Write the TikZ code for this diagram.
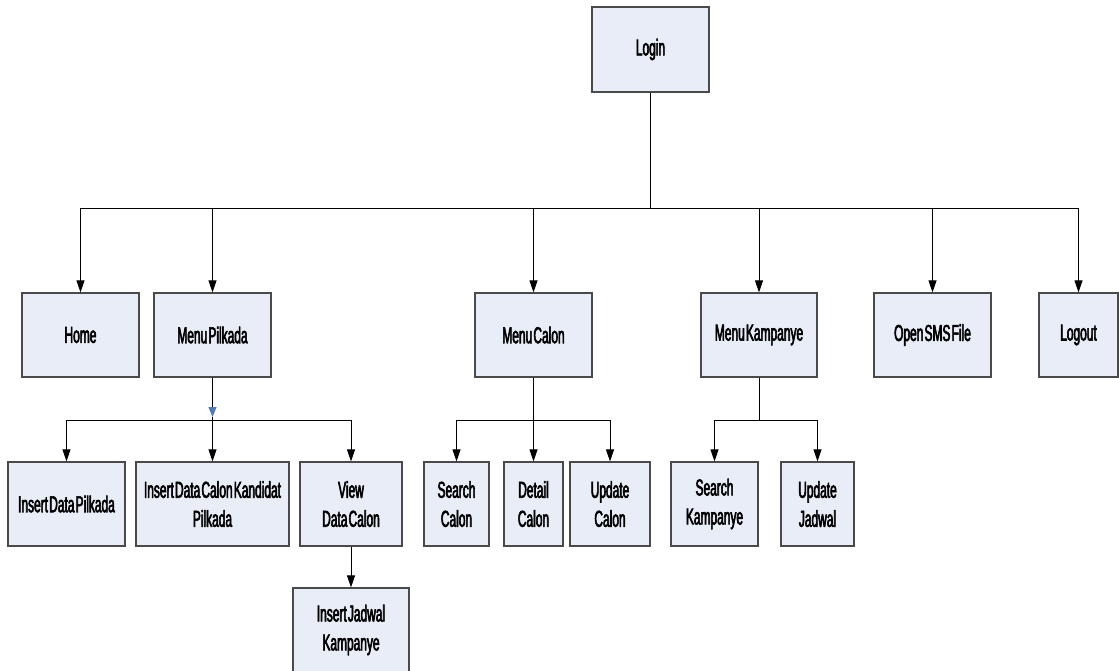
\documentclass[tikz,border=0pt]{standalone}
\usepackage{fontspec}
\setmainfont{Liberation Sans}[FakeStretch=0.52,WordSpace=0.35,FakeBold=2.5]
\usetikzlibrary{arrows.meta}
\definecolor{boxfill}{HTML}{E8EDF7}
\definecolor{boxdraw}{HTML}{4A4A4A}
\definecolor{tipblue}{HTML}{4F7BBD}
\tikzset{
  box/.style={draw=boxdraw, line width=1.2pt, fill=boxfill, inner sep=0pt, align=center,
    font=\fontsize{23}{29}\selectfont},
  arr/.style={draw=black, line width=0.9pt, -{Triangle[length=12pt,width=8pt]}},
  ln/.style={draw=black, line width=0.9pt},
  bluearr/.style={draw=black, line width=0.9pt, -{Triangle[length=10pt,width=8pt,color=tipblue]}}
}
\begin{document}
\begin{tikzpicture}[x=1pt,y=-1pt]
\useasboundingbox (0,0) rectangle (1119,671);
% level 0
\node[box, minimum width=117pt, minimum height=85pt] (login) at (650.5,49.5) {Login};
% level 1
\node[box, minimum width=117pt, minimum height=84pt] (home) at (80.5,335) {Home};
\node[box, minimum width=117pt, minimum height=84pt] (pilkada) at (212.5,335) {Menu Pilkada};
\node[box, minimum width=117pt, minimum height=84pt] (calon) at (533.5,335) {Menu Calon};
\node[box, minimum width=116pt, minimum height=84pt] (kampanye) at (759,335) {Menu Kampanye};
\node[box, minimum width=117pt, minimum height=84pt] (sms) at (932.5,335) {Open SMS File};
\node[box, minimum width=79pt, minimum height=84pt] (logout) at (1078.5,335) {Logout};
% level 2
\node[box, minimum width=117pt, minimum height=84pt] (idp) at (66.5,504) {Insert Data Pilkada};
\node[box, minimum width=153pt, minimum height=84pt] (idck) at (212.5,504) {Insert Data Calon Kandidat\\Pilkada};
\node[box, minimum width=102pt, minimum height=84pt] (vdc) at (351,504) {View\\Data Calon};
\node[box, minimum width=65pt, minimum height=84pt] (sc) at (456.5,504) {Search\\Calon};
\node[box, minimum width=59pt, minimum height=84pt] (dc) at (533.5,504) {Detail\\Calon};
\node[box, minimum width=80pt, minimum height=84pt] (uc) at (610,504) {Update\\Calon};
\node[box, minimum width=87pt, minimum height=84pt] (sk) at (714.5,504) {Search\\Kampanye};
\node[box, minimum width=73pt, minimum height=84pt] (uj) at (817.5,504) {Update\\Jadwal};
% level 3
\node[box, minimum width=116pt, minimum height=84pt] (ijk) at (351,630) {Insert Jadwal\\Kampanye};
% bus coordinates
\coordinate (bus) at (650.5,208);
\coordinate (pb) at (212.5,420);
\coordinate (pbt) at (212.5,417);
\coordinate (cb) at (533.5,420);
\coordinate (kb) at (759,420);
% connectors
\draw[ln] (login.south) -- (bus);
\foreach \n in {home,pilkada,calon,kampanye,sms,logout}{
  \draw[arr] (bus) -| (\n.north);
}
\draw[bluearr] (pilkada.south) -- (pbt);
\draw[ln] (pbt) -- (pb);
\foreach \n in {idp,idck,vdc}{
  \draw[arr] (pb) -| (\n.north);
}
\draw[ln] (calon.south) -- (cb);
\foreach \n in {sc,dc,uc}{
  \draw[arr] (cb) -| (\n.north);
}
\draw[ln] (kampanye.south) -- (kb);
\foreach \n in {sk,uj}{
  \draw[arr] (kb) -| (\n.north);
}
\draw[arr] (vdc.south) -- (ijk.north);
\end{tikzpicture}
\end{document}
